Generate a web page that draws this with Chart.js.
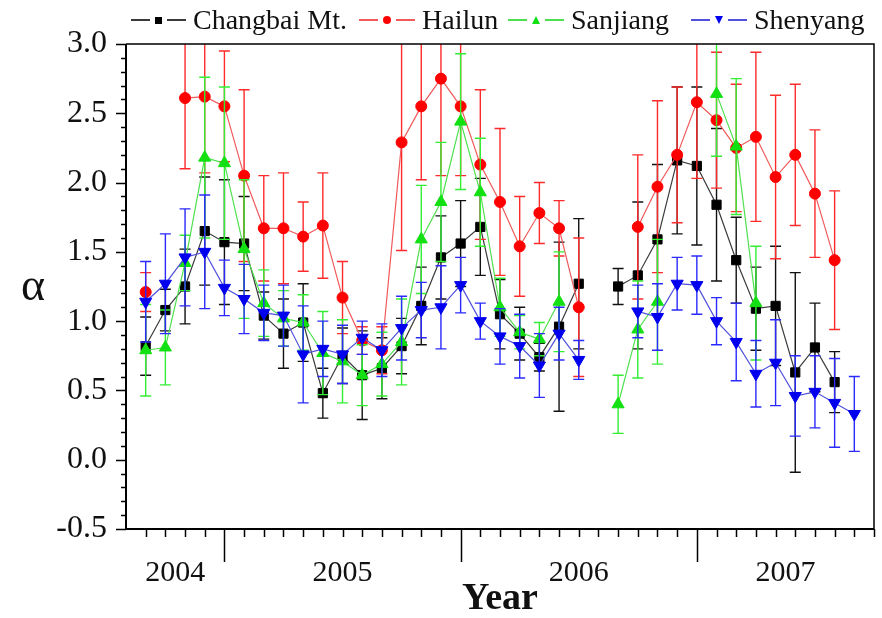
<!DOCTYPE html>
<html>
<head>
<meta charset="utf-8">
<script src="https://cdn.jsdelivr.net/npm/chart.js@4.4.0/dist/chart.umd.min.js"></script>
<style>
html,body{margin:0;padding:0;background:#fff;}
#wrap{position:relative;width:882px;height:618px;overflow:hidden;}
#c{position:absolute;left:0;top:0;}
.leg{position:absolute;top:4px;height:32px;display:flex;align-items:center;font-family:'Liberation Serif','Times New Roman',serif;font-size:28px;color:#111;white-space:nowrap;}
.dash{display:inline-block;width:19px;height:2px;}
.mk{display:inline-block;margin:0 5px;}
.txt{margin-left:7px;}
#alpha{position:absolute;left:21px;top:258px;font-family:'Liberation Serif','Times New Roman',serif;font-size:46px;color:#111;}
</style>
</head>
<body>
<div id="wrap">
<canvas id="c" width="882" height="618"></canvas>
<div id="alpha">α</div>
</div>
<script>
// ---- data ----
// month index: 0 = Jan 2004 (8 = Sep 2004 ... 44 = Sep 2007)
const months = [8,9,10,11,12,13,14,15,16,17,18,19,20,21,22,23,24,25,26,27,28,29,30,31,32,33,34,35,36,37,38,39,40,41,42,43,44];
const seriesNames = ['Changbai Mt.', 'Hailun', 'Sanjiang', 'Shenyang'];
const changbai    = [0.82,1.08,1.25,1.65,1.57,1.56,1.04,0.91,0.99,0.48,0.75,0.61,0.66,0.82,1.11,1.46,1.56,1.68,1.05,0.91,0.74,0.96,1.27,null,1.25,1.33,1.59,2.16,2.12,1.84,1.44,1.09,1.11,0.63,0.81,0.56,null];
const changbaiErr = [0.21,0.15,0.27,0.39,0.45,0.34,0.17,0.25,0.28,0.18,0.20,0.32,0.22,0.20,0.28,0.30,0.31,0.35,0.25,0.19,0.10,0.61,0.47,null,0.13,0.53,0.54,0.53,0.57,0.55,0.31,0.30,0.43,0.72,0.32,0.22,null];
const hailun      = [1.21,null,2.61,2.62,2.55,2.05,1.67,1.67,1.61,1.69,1.17,0.86,0.79,2.29,2.55,2.75,2.55,2.13,1.86,1.54,1.78,1.67,1.10,null,null,1.68,1.97,2.20,2.58,2.45,2.25,2.33,2.04,2.20,1.92,1.44,null];
const hailunErr   = [0.14,null,0.51,0.55,0.40,0.62,0.38,0.40,0.25,0.38,0.26,0.10,0.17,0.78,0.53,0.70,0.50,0.54,0.53,0.36,0.22,0.20,0.50,null,null,0.52,0.62,0.49,0.55,0.49,0.46,0.61,0.59,0.51,0.46,0.50,null];
const sanjiang    = [0.79,0.81,1.42,2.18,2.14,1.52,1.13,1.02,0.99,0.77,0.71,0.61,0.69,0.85,1.59,1.86,2.44,1.93,1.10,0.92,0.87,1.14,null,null,0.40,0.94,1.14,null,null,2.64,2.26,1.13,null,null,null,null,null];
const sanjiangErr = [0.33,0.27,0.20,0.58,0.55,0.50,0.24,0.20,0.20,0.30,0.30,0.22,0.23,0.31,0.39,0.43,0.49,0.39,0.21,0.12,0.12,0.36,null,null,0.21,0.35,0.45,null,null,0.45,0.49,0.41,null,null,null,null,null];
const shenyang    = [1.14,1.27,1.46,1.50,1.24,1.16,1.06,1.04,0.76,0.80,0.76,0.88,0.79,0.95,1.08,1.10,1.26,1.00,0.89,0.82,0.68,0.91,0.72,null,null,1.07,1.03,1.27,1.26,1.00,0.85,0.62,0.70,0.46,0.49,0.41,0.33];
const shenyangErr = [0.29,0.36,0.35,0.41,0.20,0.25,0.20,0.22,0.35,0.20,0.21,0.12,0.19,0.23,0.20,0.30,0.20,0.13,0.20,0.23,0.23,0.19,0.14,null,null,0.19,0.24,0.19,0.21,0.17,0.28,0.24,0.31,0.29,0.26,0.32,0.27];
const yearLabels = ['2004','2005','2006','2007'];
const yearStarts = [12, 24, 36];   // month index of Jan 2005, 2006, 2007
const xMin = 7, xMax = 45;
const yMin = -0.5, yMax = 3.0;

// ---- styles ----
const FONT = "'Liberation Serif','Times New Roman',serif";
const styles = [
  {point:'#000000', line:'#3a3a3a', err:'#111111', shape:'rect', radius:6.5, rot:0},
  {point:'#ff0000', line:'#f05a5a', err:'#ff2a2a', shape:'circle', radius:5.5, rot:0},
  {point:'#12e012', line:'#4fe04f', err:'#33ee33', shape:'triangle', radius:7, rot:0},
  {point:'#0000ee', line:'#5050dd', err:'#2a2aff', shape:'triangle', radius:7, rot:180}
];
const values = [changbai, hailun, sanjiang, shenyang];
const errs = [changbaiErr, hailunErr, sanjiangErr, shenyangErr];

const datasets = seriesNames.map((name, k) => ({
  label: name,
  data: months.map((m, i) => ({x: m, y: values[k][i]})),
  errors: errs[k],
  errColor: styles[k].err,
  borderColor: styles[k].line,
  borderWidth: 1.2,
  backgroundColor: styles[k].point,
  pointBackgroundColor: styles[k].point,
  pointBorderColor: styles[k].point,
  pointBorderWidth: 1,
  pointStyle: styles[k].shape,
  pointRadius: styles[k].radius,
  pointRotation: styles[k].rot,
  spanGaps: false,
  tension: 0,
  order: 4 - k
}));

// year label centres computed from boundaries
const bounds = [xMin, ...yearStarts, xMax];
const yearCenters = yearLabels.map((l, i) => (bounds[i] + bounds[i+1]) / 2);

const errorBars = {
  id: 'errorBars',
  beforeDatasetDraw(chart, args) {
    const ds = chart.data.datasets[args.index];
    const {ctx, chartArea: a, scales: {x, y}} = chart;
    ctx.save();
    ctx.beginPath();
    ctx.rect(a.left, a.top, a.right - a.left, a.bottom - a.top);
    ctx.clip();
    ctx.strokeStyle = ds.errColor;
    ctx.lineWidth = 1.4;
    ds.data.forEach((p, i) => {
      const e = ds.errors[i];
      if (p.y == null || e == null) return;
      const px = x.getPixelForValue(p.x);
      const t = y.getPixelForValue(p.y + e);
      const b = y.getPixelForValue(p.y - e);
      ctx.beginPath();
      ctx.moveTo(px, t); ctx.lineTo(px, b);
      ctx.moveTo(px - 5.5, t); ctx.lineTo(px + 5.5, t);
      ctx.moveTo(px - 5.5, b); ctx.lineTo(px + 5.5, b);
      ctx.stroke();
    });
    ctx.restore();
  }
};

const frame = {
  id: 'frame',
  afterDraw(chart) {
    const {ctx, chartArea: a, scales: {x, y}} = chart;
    ctx.save();
    ctx.strokeStyle = '#000';
    ctx.lineWidth = 1.5;
    ctx.beginPath();
    ctx.moveTo(a.left, a.top); ctx.lineTo(a.right, a.top); ctx.lineTo(a.right, a.bottom);
    ctx.stroke();
    ctx.lineWidth = 2;
    ctx.beginPath();
    ctx.moveTo(a.left, a.top); ctx.lineTo(a.left, a.bottom); ctx.lineTo(a.right, a.bottom);
    ctx.stroke();
    // y ticks
    ctx.lineWidth = 1.5;
    ctx.beginPath();
    for (let k = Math.round(yMin * 10); k <= Math.round(yMax * 10); k++) {
      const py = Math.round(y.getPixelForValue(k / 10)) + 0.5;
      const len = (k % 5 === 0) ? 10 : 5;
      ctx.moveTo(a.left, py); ctx.lineTo(a.left - len, py);
    }
    // x ticks
    for (let m = xMin + 1; m <= xMax; m++) {
      const px = Math.round(x.getPixelForValue(m)) + 0.5;
      const len = yearStarts.includes(m) ? 33 : 8;
      ctx.moveTo(px, a.bottom); ctx.lineTo(px, a.bottom + len);
    }
    ctx.stroke();
    ctx.restore();
  }
};

new Chart(document.getElementById('c'), {
  type: 'line',
  data: {datasets},
  plugins: [errorBars, frame],
  options: {
    responsive: false,
    animation: false,
    devicePixelRatio: 1,
    layout: {padding: {top: 44, right: 3, left: 0, bottom: 0}},
    plugins: {legend: {display: false}, tooltip: {enabled: false}},
    scales: {
      x: {
        type: 'linear', min: xMin, max: xMax,
        grid: {display: false}, border: {display: false},
        ticks: {
          stepSize: 0.5, autoSkip: false, maxRotation: 0, maxTicksLimit: 1000,
          padding: 18, color: '#111', font: {family: FONT, size: 30},
          callback: (v) => {
            const i = yearCenters.findIndex(c => Math.abs(c - v) < 1e-6);
            return i >= 0 ? yearLabels[i] : '';
          }
        },
        title: {display: true, text: 'Year', color: '#111', padding: 0,
                font: {family: FONT, size: 38, weight: 'bold', lineHeight: 1}},
        afterFit: s => { s.height = 89; s.paddingLeft = 0; s.paddingRight = 0; }
      },
      y: {
        min: yMin, max: yMax,
        grid: {display: false}, border: {display: false},
        ticks: {
          stepSize: 0.1, autoSkip: false, maxTicksLimit: 1000,
          padding: 11, color: '#111', font: {family: FONT, size: 32},
          callback: (v) => Math.abs(v * 2 - Math.round(v * 2)) < 1e-6 ? v.toFixed(1) : ''
        },
        afterFit: s => { s.width = 126; }
      }
    }
  }
});

// ---- legend (HTML) ----
const legendLeft = [131, 359, 508, 691];
const wrap = document.getElementById('wrap');
seriesNames.forEach((name, k) => {
  const st = styles[k];
  const item = document.createElement('div');
  item.className = 'leg';
  item.style.left = legendLeft[k] + 'px';
  const d1 = document.createElement('span'); d1.className = 'dash'; d1.style.background = st.line;
  const d2 = d1.cloneNode();
  const mk = document.createElement('span'); mk.className = 'mk';
  if (st.shape === 'rect') { mk.style.width = '7px'; mk.style.height = '7px'; mk.style.background = st.point; }
  else if (st.shape === 'circle') { mk.style.width = '8px'; mk.style.height = '8px'; mk.style.borderRadius = '50%'; mk.style.background = st.point; }
  else if (st.rot === 0) { mk.style.width = '0'; mk.style.height = '0'; mk.style.borderLeft = '4.5px solid transparent'; mk.style.borderRight = '4.5px solid transparent'; mk.style.borderBottom = '8px solid ' + st.point; }
  else { mk.style.width = '0'; mk.style.height = '0'; mk.style.borderLeft = '4.5px solid transparent'; mk.style.borderRight = '4.5px solid transparent'; mk.style.borderTop = '8px solid ' + st.point; }
  const t = document.createElement('span'); t.className = 'txt'; t.textContent = name;
  item.append(d1, mk, d2, t);
  wrap.appendChild(item);
});
</script>
</body>
</html>
